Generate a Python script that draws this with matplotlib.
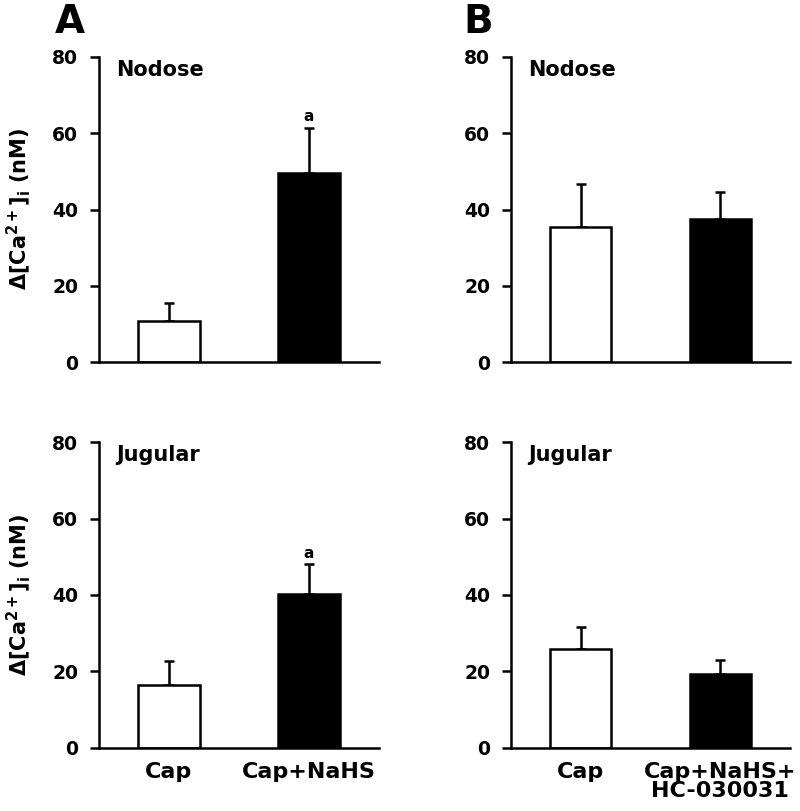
import matplotlib
matplotlib.use('Agg')
import matplotlib.pyplot as plt

plt.rcParams['font.family'] = ['DejaVu Sans']
plt.rcParams['font.weight'] = 'bold'
plt.rcParams['mathtext.fontset'] = 'custom'
plt.rcParams['mathtext.rm'] = 'DejaVu Sans:bold'
plt.rcParams['mathtext.it'] = 'DejaVu Sans:bold'
plt.rcParams['mathtext.bf'] = 'DejaVu Sans:bold'

## Данные
labels_a = ['Cap', 'Cap+NaHS']
labels_b = ['Cap', 'Cap+NaHS+\nHC-030031']

nodose_a = [10.7, 49.6]
nodose_a_err = [4.8, 11.9]
jugular_a = [16.3, 40.3]
jugular_a_err = [6.4, 7.7]

nodose_b = [35.4, 37.6]
nodose_b_err = [11.3, 6.9]
jugular_b = [25.8, 19.3]
jugular_b_err = [5.8, 3.6]

signif_a = ['', 'a']

ylabel = 'Δ[Ca$^{2+}$]$_{\\rm i}$ (nM)'

fig = plt.figure(figsize=(8, 8.11), dpi=100)

W, H = 800, 811


def make_ax(x0, x1, y_top, y_bot):
    return fig.add_axes([x0 / W, 1 - y_bot / H, (x1 - x0) / W, (y_bot - y_top) / H])


ax_na = make_ax(99, 379, 57, 362)
ax_nb = make_ax(511, 790, 57, 362)
ax_ja = make_ax(99, 379, 442.3, 747.7)
ax_jb = make_ax(511, 790, 442.3, 747.7)


def draw(ax, vals, errs, name, xlabels=None, marks=None, ylab=False):
    x = [0, 1]
    ax.bar(x, vals, width=0.44, color=['white', 'black'], edgecolor='black',
           linewidth=1.8, zorder=2)
    ax.errorbar(x, vals, yerr=[[0, 0], errs], fmt='none', ecolor='black',
                elinewidth=1.8, capsize=3.5, capthick=1.8, zorder=1)
    ax.set_xlim(-0.5, 1.5)
    ax.set_ylim(0, 80)
    ax.set_yticks([0, 20, 40, 60, 80])
    ax.spines['top'].set_visible(False)
    ax.spines['right'].set_visible(False)
    ax.spines['left'].set_linewidth(1.8)
    ax.spines['bottom'].set_linewidth(1.8)
    ax.tick_params(axis='y', direction='out', length=6.5, width=1.8,
                   labelsize=13.5, pad=8.5)
    ax.tick_params(axis='x', length=0, labelsize=16, pad=10)
    ax.set_xticks(x)
    if xlabels:
        ax.set_xticklabels(xlabels, fontweight='bold', linespacing=0.95)
    else:
        ax.set_xticklabels([])
    for t in ax.get_yticklabels():
        t.set_fontweight('bold')
    ax.text(0.062, 0.938, name, transform=ax.transAxes, fontsize=15,
            fontweight='bold', va='baseline', ha='left')
    if marks:
        for xi, v, e, m in zip(x, vals, errs, marks):
            if m:
                ax.text(xi, v + e + 1.6, m, ha='center', va='baseline',
                        fontsize=11, fontweight='bold')
    if ylab:
        ax.set_ylabel(ylabel, fontsize=15, fontweight='bold')
        ax.yaxis.set_label_coords(-0.236, 0.5)


draw(ax_na, nodose_a, nodose_a_err, 'Nodose', marks=signif_a, ylab=True)
draw(ax_nb, nodose_b, nodose_b_err, 'Nodose')
draw(ax_ja, jugular_a, jugular_a_err, 'Jugular', xlabels=labels_a,
     marks=signif_a, ylab=True)
draw(ax_jb, jugular_b, jugular_b_err, 'Jugular', xlabels=labels_b)

fig.text(55 / W, 1 - 33 / H, 'A', fontsize=28, fontweight='bold', va='baseline')
fig.text(463 / W, 1 - 33 / H, 'B', fontsize=28, fontweight='bold', va='baseline')

fig.savefig('out.png', dpi=100)
